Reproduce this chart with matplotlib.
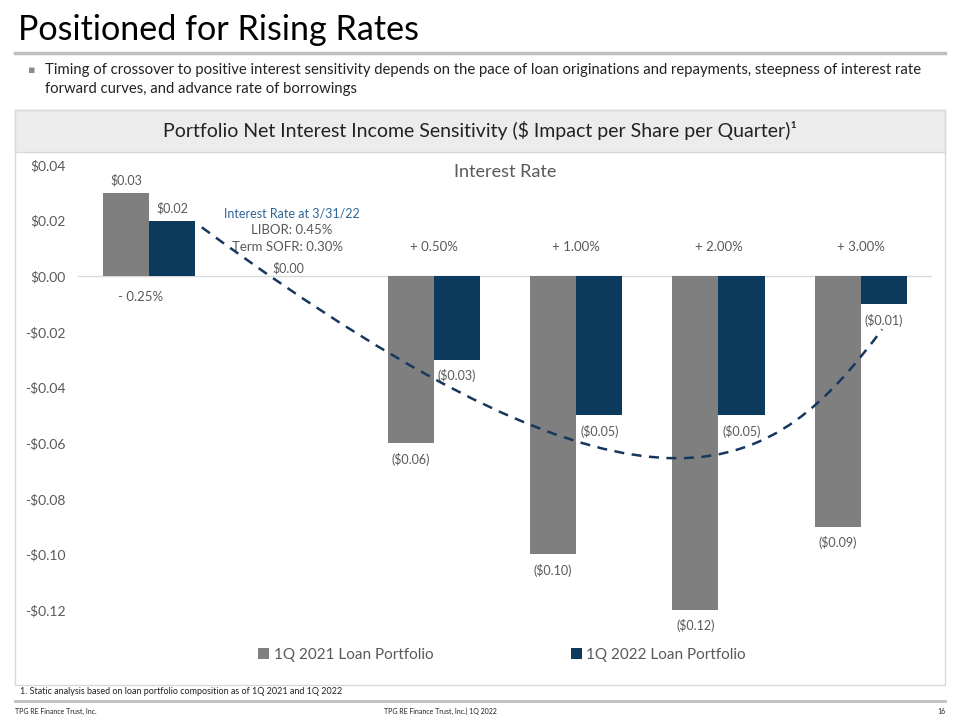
import numpy as np
import matplotlib.pyplot as plt
from matplotlib.patches import Rectangle, PathPatch
from matplotlib.path import Path

plt.rcParams['font.family'] = ['Lato', 'DejaVu Sans']

# data
rate_labels = ['- 0.25%', '', '+ 0.50%', '+ 1.00%', '+ 2.00%', '+ 3.00%']
q1_2021 = [0.03, 0.00, -0.06, -0.10, -0.12, -0.09]
q1_2022 = [0.02, 0.00, -0.03, -0.05, -0.05, -0.01]
series_names = ['1Q 2021 Loan Portfolio', '1Q 2022 Loan Portfolio']
yticks = [0.04, 0.02, 0.00, -0.02, -0.04, -0.06, -0.08, -0.10, -0.12]
# dashed trend curve (cubic bezier control points, data units)
trend_x = [0.37, 3.60, 4.40, 5.15]
trend_y = [0.0176, -0.1040, -0.0700, -0.0191]

GRAY = '#7f7f7f'
NAVY = '#0b3a5c'
TXT = '#595959'


def money(v):
    if v < 0:
        return '(${:.2f})'.format(-v)
    return '${:.2f}'.format(v)


fig = plt.figure(figsize=(9.6, 7.2), dpi=100)

# slide header
fig.text(18 / 960, 1 - 30 / 720, 'Positioned for Rising Rates', fontsize=24.6,
         va='center', ha='left', color='black')
fig.add_artist(plt.Line2D([15 / 960, 945 / 960], [1 - 53 / 720] * 2,
                          color='#bfbfbf', lw=2.5))
fig.text(28 / 960, 1 - 70 / 720, '▪', fontsize=8, color='#8c8c8c',
         va='center', ha='left', family=['DejaVu Sans'])
fig.text(45 / 960, 1 - 70 / 720,
         'Timing of crossover to positive interest sensitivity depends on the pace of loan '
         'originations and repayments, steepness of interest rate',
         fontsize=10.7, va='center', ha='left', color='#222222')
fig.text(45 / 960, 1 - 89 / 720, 'forward curves, and advance rate of borrowings',
         fontsize=10.7, va='center', ha='left', color='#222222')

# chart box with header band
fig.add_artist(Rectangle((15 / 960, 1 - 685 / 720), 930 / 960, 575 / 720,
                         transform=fig.transFigure, facecolor='white',
                         edgecolor='#d9d9d9', lw=1, zorder=-2))
fig.add_artist(Rectangle((15 / 960, 1 - 152 / 720), 930 / 960, 42 / 720,
                         transform=fig.transFigure, facecolor='#ececec',
                         edgecolor='#d9d9d9', lw=1, zorder=-1))
fig.text(0.5, 1 - 131 / 720,
         'Portfolio Net Interest Income Sensitivity ($ Impact per Share per Quarter)\u00b9',
         fontsize=14, ha='center', va='center', color='#222222')

ax = fig.add_axes([78 / 960, 1 - 610 / 720, 854 / 960, 445 / 720])
ax.patch.set_alpha(0)
x = np.arange(len(q1_2021))
w = 0.325
b1 = ax.bar(x - w / 2, q1_2021, w, color=GRAY, label=series_names[0], zorder=2)
b2 = ax.bar(x + w / 2, q1_2022, w, color=NAVY, label=series_names[1], zorder=2)
ax.set_xlim(-0.5, len(x) - 0.5)
ax.set_ylim(-0.12, 0.04)
ax.set_yticks(yticks)
ax.set_yticklabels(['-${:.2f}'.format(-t) if t < 0 else '${:.2f}'.format(t) for t in yticks])
ax.tick_params(axis='y', length=0, labelsize=10, labelcolor=TXT, pad=9)
ax.set_xticks([])
for s in ax.spines.values():
    s.set_visible(False)
ax.axhline(0, color='#d9d9d9', lw=1, zorder=1)

# value labels
for i, (a, b) in enumerate(zip(q1_2021, q1_2022)):
    if i == 1:
        ax.annotate(money(0), (x[i], 0), xytext=(-2, 6), textcoords='offset points',
                    ha='center', va='center', fontsize=9, color=TXT)
        continue
    for xv, v in ((x[i] - w / 2, a), (x[i] + w / 2, b)):
        off = 9 if v >= 0 else -11.5
        ax.annotate(money(v), (xv, v), xytext=(0, off), textcoords='offset points',
                    ha='center', va='center', fontsize=9, color=TXT)

# category labels
for i, lab in enumerate(rate_labels):
    if not lab:
        continue
    if i == 0:
        ax.annotate(lab, (x[i], 0), xytext=(-6, -15), textcoords='offset points',
                    ha='center', va='center', fontsize=9.5, color=TXT)
    else:
        ax.annotate(lab, (x[i], 0), xytext=(0, 21), textcoords='offset points',
                    ha='center', va='center', fontsize=9.5, color=TXT)

ax.annotate('Interest Rate at 3/31/22', (x[1], 0), xytext=(0, 45), textcoords='offset points',
            ha='center', va='center', fontsize=9, color='#2f6496')
ax.annotate('LIBOR: 0.45%', (x[1], 0), xytext=(0, 33), textcoords='offset points',
            ha='center', va='center', fontsize=9.5, color=TXT)
ax.annotate('Term SOFR: 0.30%', (x[1], 0), xytext=(-3, 21), textcoords='offset points',
            ha='center', va='center', fontsize=9.5, color=TXT)
ax.text(0.5, 0.985, 'Interest Rate', transform=ax.transAxes, ha='center', va='center',
        fontsize=13, color=TXT)

# dashed trend curve
verts = list(zip(trend_x, trend_y))
path = Path(verts, [Path.MOVETO, Path.CURVE4, Path.CURVE4, Path.CURVE4])
ax.add_patch(PathPatch(path, facecolor='none', edgecolor='#17375e', lw=1.8,
                       linestyle=(0, (4, 3)), zorder=3))

fig.legend(handles=[b1, b2], loc='center', bbox_to_anchor=(0.523, 1 - 655 / 720),
           ncol=2, frameon=False, fontsize=11, labelcolor=TXT, handlelength=0.7,
           handleheight=0.7, handletextpad=0.3, columnspacing=9)

# footer
fig.text(20 / 960, 1 - 692 / 720,
         '1. Static analysis based on loan portfolio composition as of 1Q 2021 and 1Q 2022',
         fontsize=6.5, va='center', ha='left', color='#222222')
fig.add_artist(plt.Line2D([15 / 960, 945 / 960], [1 - 701 / 720] * 2,
                          color='#bfbfbf', lw=2))
fig.text(15 / 960, 1 - 711 / 720, 'TPG RE Finance Trust, Inc.', fontsize=5,
         va='center', ha='left', color='#222222')
fig.text(440 / 960, 1 - 711 / 720, 'TPG RE Finance Trust, Inc.| 1Q 2022', fontsize=5,
         va='center', ha='center', color='#222222')
fig.text(945 / 960, 1 - 711 / 720, '16', fontsize=5, va='center', ha='right',
         color='#222222')

fig.savefig('out.png', dpi=100)
